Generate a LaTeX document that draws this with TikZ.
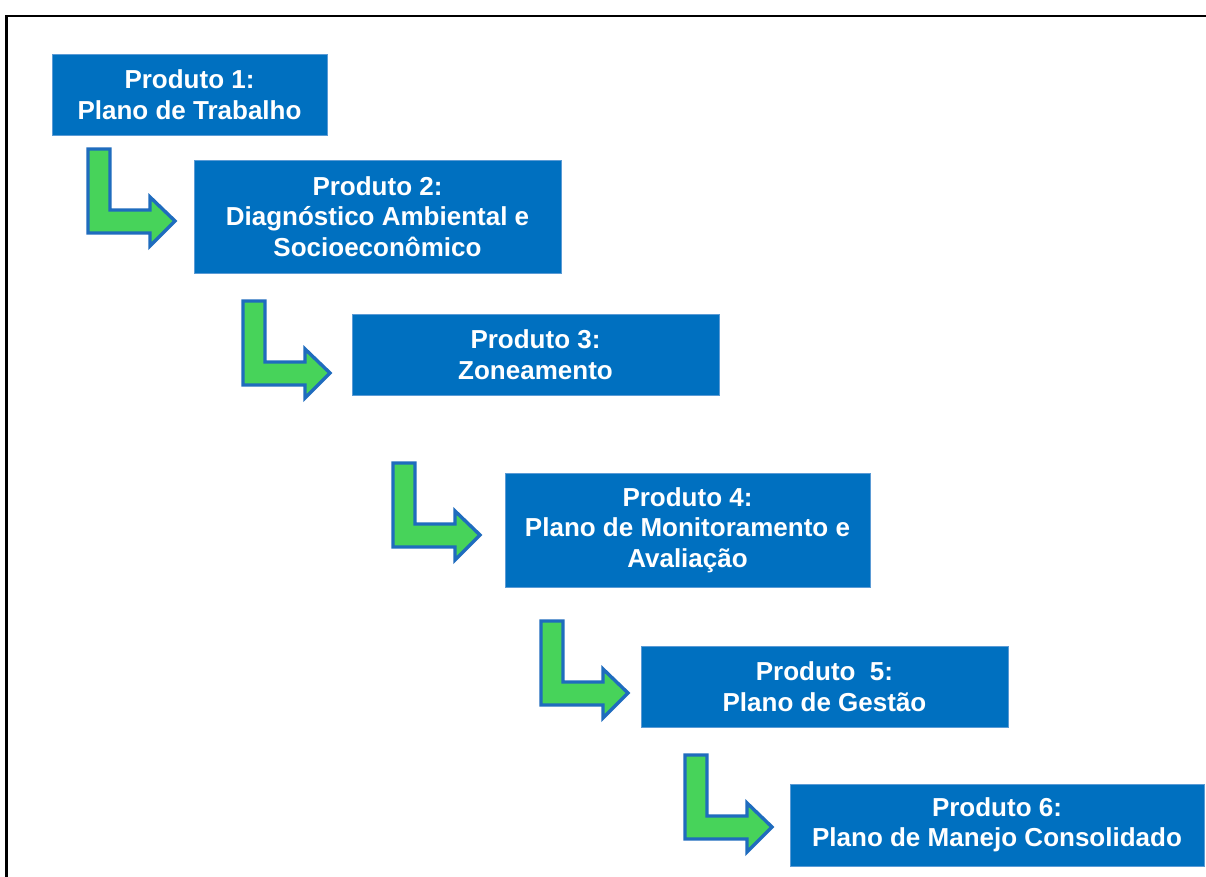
\documentclass[tikz,border=0pt]{standalone}
\usepackage{fontspec}
\setmainfont{Liberation Sans}
\definecolor{boxblue}{HTML}{0070C0}
\definecolor{boxedge}{HTML}{5B9BD5}
\definecolor{arrgreen}{HTML}{47D35A}
\definecolor{arredge}{HTML}{1F6CBE}
\tikzset{
  prodbox/.style={fill=boxblue, draw=boxedge, line width=0.8pt, inner sep=0pt,
    text=white, align=center, font=\bfseries\fontsize{26}{30.5}\selectfont},
  larrow/.pic={
    \draw[fill=arrgreen, draw=arredge, line width=3.4pt, line join=miter]
      (0,0) -- (22,0) -- (22,61) -- (62,61) -- (62,48) -- (87,72) -- (62,97)
      -- (62,84) -- (0,84) -- cycle;
  }
}
\begin{document}
\begin{tikzpicture}[x=1pt,y=-1pt]
\useasboundingbox (0,0) rectangle (1206,876);
\fill[white] (0,0) rectangle (1206,876);
\coordinate (fb) at (6.5,876);
\coordinate (ftl) at (6.5,16);
\coordinate (ftr) at (1206,16);
\draw[line width=2.2pt, line cap=rect] (fb) -- (ftl) -- (ftr);

\node[prodbox, minimum width=275pt, minimum height=81pt] (p1) at (189.5,94.5)
  {Produto 1:\\Plano de Trabalho};
\node[prodbox, minimum width=367pt, minimum height=113pt] (p2) at (377.5,216.5)
  {Produto 2:\\Diagnóstico Ambiental e\\Socioeconômico};
\node[prodbox, minimum width=367pt, minimum height=81pt] (p3) at (535.5,354.5)
  {Produto 3:\\Zoneamento};
\node[prodbox, minimum width=365pt, minimum height=114pt] (p4) at (687.5,530)
  {Produto 4:\\Plano de Monitoramento e\\Avaliação};
\node[prodbox, minimum width=367pt, minimum height=81pt] (p5) at (824.5,686.5)
  {Produto\ \ 5:\\Plano de Gestão};
\node[prodbox, minimum width=414pt, minimum height=82pt] (p6) at (997,825)
  {Produto 6:\\Plano de Manejo Consolidado};

\coordinate (a1) at (88,149);
\coordinate (a2) at (243,301);
\coordinate (a3) at (393,463);
\coordinate (a4) at (541,621);
\coordinate (a5) at (685,755);
\foreach \a in {a1,a2,a3,a4,a5} { \pic at (\a) {larrow}; }
\end{tikzpicture}
\end{document}
